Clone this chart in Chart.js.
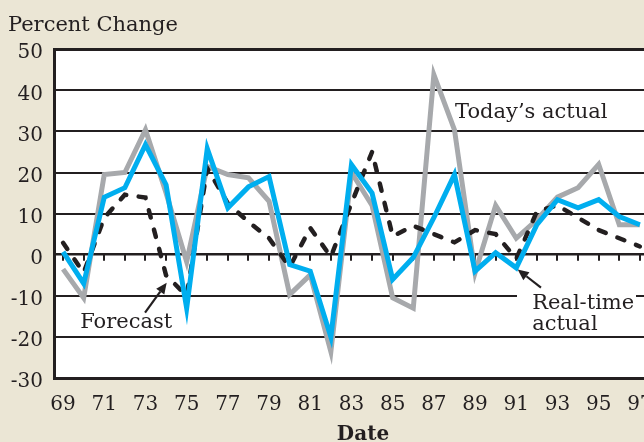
<!DOCTYPE html>
<html>
<head>
<meta charset="utf-8">
<script src="https://cdn.jsdelivr.net/npm/chart.js@4.4.1/dist/chart.umd.min.js"></script>
<style>
    html, body { margin: 0; padding: 0; overflow: hidden; background: #ebe6d5; }
    #chart { display: block; }
</style>
</head>
<body>
<canvas id="chart" width="690" height="460"></canvas>
<script>
const years = [69, 70, 71, 72, 73, 74, 75, 76, 77, 78, 79, 80, 81, 82, 83,
               84, 85, 86, 87, 88, 89, 90, 91, 92, 93, 94, 95, 96, 97];
const yearLabels = [69, 71, 73, 75, 77, 79, 81, 83, 85, 87, 89, 91, 93, 95, 97];

const todaysActual = [-3.5, -10.5, 19.5, 20, 30.4, 15, -1.7, 21.5, 19.5, 18.7, 13, -9.7, -4.9, -23.6, 20,
                      12, -10.5, -13, 43.8, 30.4, -4.4, 12, 4, 8.5, 14, 16.3, 22, 7.3, 7.3];
const realTimeActual = [0.7, -7, 14, 16.3, 26.8, 17, -13, 25.8, 11.4, 16.5, 19, -2.4, -4, -20, 21.9,
                        15, -6, -0.7, 9, 19.5, -4, 0.5, -3.2, 7.3, 13.4, 11.4, 13.4, 9.3, 7.3];
const forecast = [2.9, -4.4, 9, 14.6, 13.9, -5, -10, 21, 12.5, 8, 4, -3, 6.5, -0.5, 12.5,
                  25, 4.5, 7, 5, 3, 6, 5, -1, 10.5, 12, 9, 6, 4, 2];

const INK = '#231f20';
const FONT = 'DejaVu Serif';

function toPoints(values) {
    return years.map((yr, i) => ({ x: yr, y: values[i] }));
}

const framePlugin = {
    id: 'frame',
    beforeDraw(chart) {
        const { ctx, chartArea } = chart;
        ctx.save();
        ctx.fillStyle = '#ebe6d5';
        ctx.fillRect(0, 0, chart.width, chart.height);
        ctx.fillStyle = '#ffffff';
        ctx.fillRect(chartArea.left, chartArea.top, chartArea.right - chartArea.left, chartArea.bottom - chartArea.top);
        ctx.restore();
    },
    beforeDatasetsDraw(chart) {
        // small year ticks hanging off the zero line
        const { ctx } = chart;
        const xs = chart.scales.x, ys = chart.scales.y;
        const y0 = ys.getPixelForValue(0);
        ctx.save();
        ctx.strokeStyle = INK;
        ctx.lineWidth = 2;
        years.forEach(yr => {
            const x = Math.round(xs.getPixelForValue(yr));
            ctx.beginPath();
            ctx.moveTo(x, y0);
            ctx.lineTo(x, y0 + 6);
            ctx.stroke();
        });
        ctx.restore();
    },
    afterDatasetsDraw(chart) {
        const { ctx } = chart;
        const xs = chart.scales.x, ys = chart.scales.y;
        const px = v => xs.getPixelForValue(v);
        const py = v => ys.getPixelForValue(v);

        ctx.save();
        // box behind the real-time label
        ctx.fillStyle = '#ffffff';
        ctx.fillRect(517, py(-7.5), 119, py(-19) - py(-7.5));

        ctx.fillStyle = INK;
        ctx.font = '21px "' + FONT + '"';
        ctx.textBaseline = 'alphabetic';
        ctx.textAlign = 'left';
        ctx.fillText('Today\u2019s actual', px(88.03), py(33.3));
        ctx.fillText('Forecast', px(69.83), py(-17.8));
        ctx.fillText('Real-time', px(91.77), py(-13.1));
        ctx.fillText('actual', px(91.77), py(-18.2));

        drawArrow(ctx, px(72.98), py(-14.1), px(74.03), py(-6.8));
        drawArrow(ctx, px(92.2), py(-8), px(91.07), py(-3.6));
        ctx.restore();
    }
};

function drawArrow(ctx, x1, y1, x2, y2) {
    const ang = Math.atan2(y2 - y1, x2 - x1);
    const head = 11, half = 5;
    const bx = x2 - Math.cos(ang) * head, by = y2 - Math.sin(ang) * head;
    ctx.strokeStyle = INK;
    ctx.lineWidth = 2.2;
    ctx.beginPath();
    ctx.moveTo(x1, y1);
    ctx.lineTo(bx, by);
    ctx.stroke();
    ctx.fillStyle = INK;
    ctx.beginPath();
    ctx.moveTo(x2, y2);
    ctx.lineTo(bx - Math.sin(ang) * half, by + Math.cos(ang) * half);
    ctx.lineTo(bx + Math.sin(ang) * half, by - Math.cos(ang) * half);
    ctx.closePath();
    ctx.fill();
}

new Chart(document.getElementById('chart'), {
    type: 'line',
    data: {
        datasets: [
            {
                label: 'Real-time actual',
                data: toPoints(realTimeActual),
                borderColor: '#00aeef',
                borderWidth: 5,
                order: 1
            },
            {
                label: 'Forecast',
                data: toPoints(forecast),
                borderColor: INK,
                borderWidth: 4.5,
                borderDash: [7.5, 12.5],
                borderCapStyle: 'round',
                order: 2
            },
            {
                label: 'Today\u2019s actual',
                data: toPoints(todaysActual),
                borderColor: '#a7a9ac',
                borderWidth: 5,
                order: 3
            }
        ]
    },
    options: {
        responsive: false,
        animation: false,
        devicePixelRatio: 1,
        elements: {
            point: { radius: 0 },
            line: { tension: 0, borderJoinStyle: 'miter', fill: false }
        },
        layout: { padding: { left: 8, right: 18, top: 0, bottom: 0 } },
        plugins: {
            legend: { display: false },
            tooltip: { enabled: false },
            title: {
                display: true,
                text: 'Percent Change',
                align: 'start',
                color: INK,
                font: { family: FONT, size: 21, weight: 'normal' },
                padding: { top: 13, bottom: 11 }
            }
        },
        scales: {
            x: {
                type: 'linear',
                min: 68.56,
                max: 98.56,
                afterBuildTicks: scale => {
                    scale.ticks = yearLabels.map(v => ({ value: v }));
                },
                afterFit: scale => { scale.height = 82; },
                grid: { display: false, drawTicks: false },
                border: { display: true, color: INK, width: 3 },
                ticks: {
                    color: INK,
                    padding: 15,
                    maxRotation: 0,
                    autoSkip: false,
                    font: { family: FONT, size: 20 },
                    callback: v => String(v)
                },
                title: {
                    display: true,
                    text: 'Date',
                    color: INK,
                    font: { family: FONT, size: 20, weight: 'bold' },
                    padding: { top: 4, bottom: 13 }
                }
            },
            y: {
                min: -30,
                max: 50,
                afterFit: scale => { scale.width = 46; },
                ticks: {
                    stepSize: 10,
                    color: INK,
                    padding: 11,
                    labelOffset: 4,
                    font: { family: FONT, size: 20 }
                },
                grid: {
                    color: INK,
                    lineWidth: c => (c.tick && c.tick.value === 50) ? 3 : (c.tick && c.tick.value === 0 ? 2.5 : 2),
                    drawTicks: false
                },
                border: { color: INK, width: 3 }
            }
        }
    },
    plugins: [framePlugin]
});
</script>
</body>
</html>
